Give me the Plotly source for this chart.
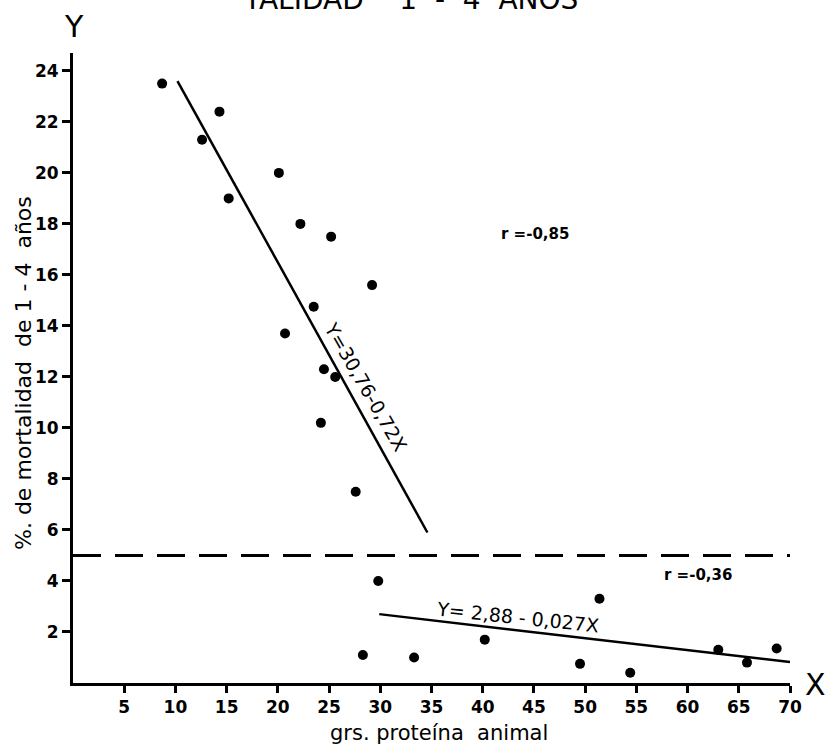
import plotly.graph_objects as go

# data
protein_x = [8.7, 14.3, 12.6, 15.2, 20.1, 22.2, 25.2, 29.2, 23.5, 20.7, 24.5, 25.6,
             24.2, 27.6, 29.8, 28.3, 33.3, 40.2, 51.4, 49.5, 54.4, 63.0, 65.8, 68.7]
mortality_y = [23.5, 22.4, 21.3, 19.0, 20.0, 18.0, 17.5, 15.6, 14.75, 13.7, 12.3, 12.0,
               10.2, 7.5, 4.0, 1.1, 1.0, 1.7, 3.3, 0.75, 0.4, 1.3, 0.8, 1.35]

fit1_x = [10.2, 34.6]
fit1_y = [23.6, 5.9]
fit2_x = [29.9, 70.0]
fit2_y = [2.7, 0.82]
threshold_x = [0, 70.5]
threshold_y = [5, 5]

x_ticks = [5, 10, 15, 20, 25, 30, 35, 40, 45, 50, 55, 60, 65, 70]
y_ticks = [2, 4, 6, 8, 10, 12, 14, 16, 18, 20, 22, 24]

FONT = "DejaVu Sans"
NB = "\u00a0"
W, H = 825, 749
ML, MR, MT, MB = 73, 35, 53, 66
PW, PH = W - ML - MR, H - MT - MB


def px(xp):
    return (xp - ML) / PW


def py(yp):
    return (H - MB - yp) / PH


fig = go.Figure()
fig.add_trace(go.Scatter(x=threshold_x, y=threshold_y, mode="lines",
                         line=dict(color="black", width=3, dash="28px,14px"),
                         hoverinfo="skip", cliponaxis=False))
fig.add_trace(go.Scatter(x=fit1_x, y=fit1_y, mode="lines",
                         line=dict(color="black", width=2.5), cliponaxis=False))
fig.add_trace(go.Scatter(x=fit2_x, y=fit2_y, mode="lines",
                         line=dict(color="black", width=2.5), cliponaxis=False))
fig.add_trace(go.Scatter(x=protein_x, y=mortality_y, mode="markers",
                         marker=dict(color="black", size=10), cliponaxis=False))

tickfont = dict(family=FONT, size=17, color="black", weight="bold")
fig.update_layout(
    width=W, height=H,
    margin=dict(l=ML, r=MR, t=MT, b=MB),
    paper_bgcolor="white", plot_bgcolor="white",
    showlegend=False,
    font=dict(family=FONT, color="black"),
    xaxis=dict(range=[0, 70], tickvals=x_ticks, ticktext=[str(v) for v in x_ticks],
               showgrid=False, zeroline=False, showline=True, linecolor="black",
               linewidth=3, ticks="outside", ticklen=7, tickwidth=2.5, tickcolor="black",
               tickfont=tickfont),
    yaxis=dict(range=[0, 24.7], tickvals=y_ticks, ticktext=[str(v) for v in y_ticks],
               showgrid=False, zeroline=False, showline=True, linecolor="black",
               linewidth=3, ticks="outside", ticklen=8, tickwidth=2.5, tickcolor="black",
               tickfont=tickfont),
)


def ann(text, x, y, size, xref="x", yref="y", angle=0, weight="normal"):
    fig.add_annotation(text=text, x=x, y=y, xref=xref, yref=yref, showarrow=False,
                       textangle=angle, xanchor="center", yanchor="middle",
                       font=dict(family=FONT, size=size, color="black", weight=weight))


# clipped title at the very top
ann(f"TALIDAD{NB}{NB}{NB}{NB}1{NB}{NB}-{NB}{NB}4{NB}{NB}AÑOS", px(410), py(-1), 28,
    xref="paper", yref="paper")

# axis letters
ann("Y", px(74), py(27), 30, xref="paper", yref="paper")
ann("X", px(815), py(684), 30, xref="paper", yref="paper")

# axis titles
ann(f"grs.{NB}proteína{NB}{NB}animal", px(439), py(733), 21, xref="paper", yref="paper")
ann(f"%.{NB}de{NB}mortalidad{NB}{NB}de{NB}1{NB}-{NB}4{NB}{NB}años", px(23), py(373), 22,
    xref="paper", yref="paper", angle=-90)

# correlation and equations
ann("r =-0,85", 45.1, 17.6, 15, weight="bold")
ann("r =-0,36", 61.0, 4.25, 15, weight="bold")
ann("Y=30,76-0,72X", 28.6, 11.6, 19, angle=60)
ann("Y= 2,88 - 0,027X", 43.4, 2.57, 19, angle=6)

fig.write_html("out.html", config={"displayModeBar": False},
               post_script="document.body.style.margin='0';")
